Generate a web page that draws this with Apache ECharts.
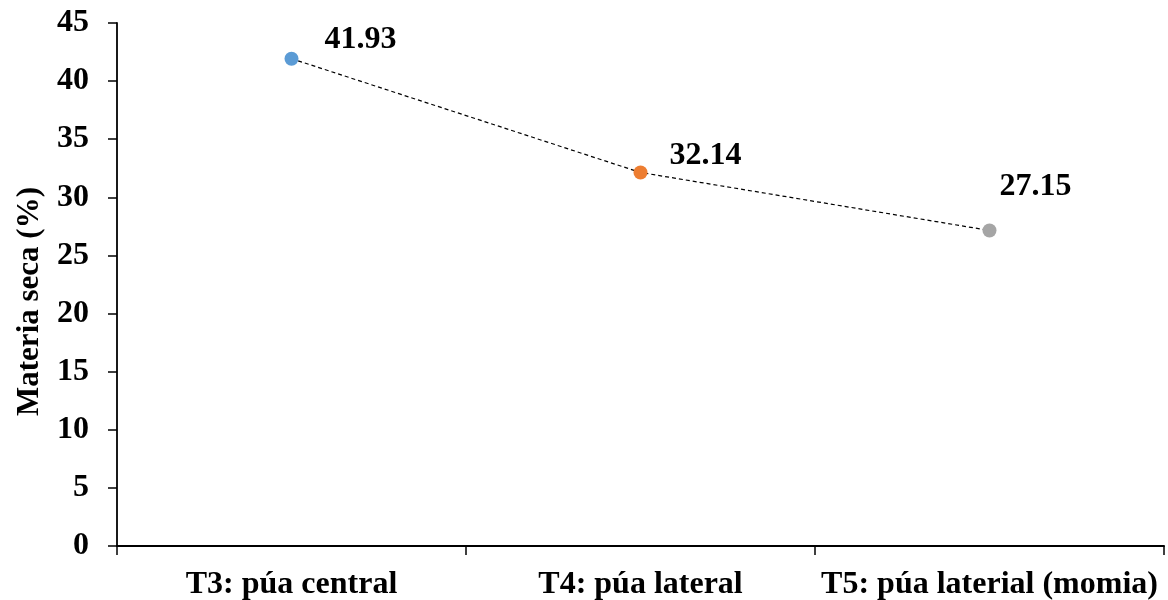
<!DOCTYPE html>
<html>
<head>
<meta charset="utf-8">
<script src="https://cdn.jsdelivr.net/npm/echarts@6/dist/echarts.min.js"></script>
<style>
  html, body { margin: 0; padding: 0; background: #fff; }
  #chart { width: 1168px; height: 600px; }
</style>
</head>
<body>
<div id="chart"></div>
<script>
// Treatments and dry-matter percentages
const categories = ['T3: púa central', 'T4: púa lateral', 'T5: púa laterial (momia)'];
const dryMatter = [41.93, 32.14, 27.15];
const pointColors = ['#5B9BD5', '#ED7D31', '#A5A5A5'];
const labelOffsets = [[69, -19], [65, -17], [46, -44]];
const yTitle = 'Materia seca (%)';

const FONT = '"Liberation Serif", "Times New Roman", serif';

const seriesData = dryMatter.map((v, i) => ({
  value: v,
  itemStyle: { color: pointColors[i] },
  label: { offset: labelOffsets[i] }
}));

const chart = echarts.init(document.getElementById('chart'), null, { renderer: 'canvas' });
chart.setOption({
  animation: false,
  backgroundColor: '#ffffff',
  grid: { left: 117, right: 4, top: 23, bottom: 54, containLabel: false, outerBoundsMode: 'none' },
  xAxis: {
    type: 'category',
    data: categories,
    boundaryGap: true,
    axisLine: { show: true, lineStyle: { color: '#000', width: 2 } },
    axisTick: { show: true, inside: false, length: 9, alignWithLabel: false, lineStyle: { color: '#000', width: 1.5 } },
    axisLabel: { color: '#000', fontFamily: FONT, fontWeight: 'bold', fontSize: 32, margin: 23, interval: 0, hideOverlap: false },
    splitLine: { show: false }
  },
  yAxis: {
    type: 'value',
    min: 0,
    max: 45,
    interval: 5,
    name: yTitle,
    nameLocation: 'middle',
    nameRotate: 90,
    nameGap: 72,
    nameTextStyle: { color: '#000', fontFamily: FONT, fontWeight: 'bold', fontSize: 31, padding: [0, 34, 0, 0] },
    axisLine: { show: true, lineStyle: { color: '#000', width: 1.8 } },
    axisTick: { show: true, inside: false, length: 9, lineStyle: { color: '#000', width: 1.5 } },
    axisLabel: { color: '#000', fontFamily: FONT, fontWeight: 'bold', fontSize: 32, margin: 28 },
    splitLine: { show: false }
  },
  series: [{
    type: 'line',
    data: seriesData,
    symbol: 'circle',
    symbolSize: 14,
    showAllSymbol: true,
    lineStyle: { color: '#000', width: 1.2, type: [4, 3] },
    label: {
      show: true,
      position: 'inside',
      color: '#000',
      fontFamily: FONT,
      fontWeight: 'bold',
      fontSize: 32,
      formatter: p => p.value.toFixed(2)
    }
  }]
});
</script>
</body>
</html>
